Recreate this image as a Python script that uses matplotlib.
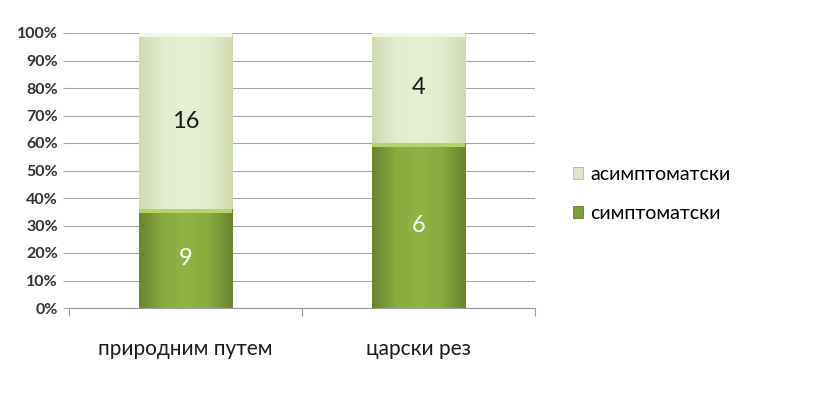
import matplotlib
matplotlib.use("Agg")
import matplotlib.pyplot as plt
import numpy as np
from matplotlib.colors import LinearSegmentedColormap
from matplotlib.patches import Rectangle

categories = ["природним путем", "царски рез"]
symptomatic = [9, 6]
asymptomatic = [16, 4]
series_names = ["симптоматски", "асимптоматски"]
yticks = [0, 10, 20, 30, 40, 50, 60, 70, 80, 90, 100]

plt.rcParams['font.family'] = ['Lato', 'DejaVu Sans']

fig = plt.figure(figsize=(8.22, 4.0), dpi=100)
ax = fig.add_axes([69/822, 1-308/400, (535-69)/822, (308-33)/400])

x = np.arange(len(categories))
tot = np.array(symptomatic) + np.array(asymptomatic)
p_sym = np.array(symptomatic) / tot * 100
p_asy = np.array(asymptomatic) / tot * 100

dark_cmap = LinearSegmentedColormap.from_list("d", ["#6a8530", "#88aa3e", "#90b345", "#88aa3e", "#6a8530"])
light_cmap = LinearSegmentedColormap.from_list("l", ["#cfdab3", "#e3ecce", "#e6efd2", "#e3ecce", "#cfdab3"])

w = 0.4
b1 = ax.bar(x, p_sym, w, color="#8aac40", zorder=2)
b2 = ax.bar(x, p_asy, w, bottom=p_sym, color="#e4edcd", zorder=2)

grad = np.linspace(0, 1, 64).reshape(1, -1)
for bars, cmap, top_col in ((b1, dark_cmap, "#b5d36a"), (b2, light_cmap, "#f2f7e6")):
    for r in bars:
        x0, y0 = r.get_x(), r.get_y()
        ww, hh = r.get_width(), r.get_height()
        im = ax.imshow(grad, cmap=cmap, aspect="auto", extent=[x0, x0 + ww, y0, y0 + hh], zorder=3)
        im.set_clip_path(r)
        ax.add_patch(Rectangle((x0, y0 + hh - 1.6), ww, 1.6, color=top_col, zorder=4, lw=0))

for i in range(len(categories)):
    ax.text(x[i], p_sym[i] / 2, str(symptomatic[i]), ha="center", va="center",
            fontsize=17, color="white", zorder=5)
    ax.text(x[i], p_sym[i] + p_asy[i] / 2, str(asymptomatic[i]), ha="center", va="center",
            fontsize=17, color="#1a1a1a", zorder=5)

ax.set_xlim(-0.5, len(categories) - 0.5)
ax.set_ylim(0, 100)
ax.set_yticks(yticks)
ax.set_yticklabels([f"{v}%" for v in yticks], fontsize=11.5, fontweight="bold", color="#333333")
ax.yaxis.grid(True, color="#a6a6a6", lw=0.8, zorder=0)
ax.set_axisbelow(True)
ax.tick_params(axis="y", length=4, color="#a6a6a6", pad=4)

ax.set_xticks([-0.5, 0.5, 1.5])
ax.set_xticklabels([])
ax.set_xticks(x, minor=True)
ax.set_xticklabels(categories, minor=True, fontsize=15, color="#1a1a1a")
ax.tick_params(axis="x", which="major", length=6, color="#999999", direction="out")
ax.tick_params(axis="x", which="minor", length=0, pad=22)

for s in ("top", "right", "left"):
    ax.spines[s].set_visible(False)
ax.spines["bottom"].set_color("#999999")

handles = [Rectangle((0, 0), 1, 1, facecolor="#dfe6cc", edgecolor="#b0b89a", lw=0.6),
           Rectangle((0, 0), 1, 1, facecolor="#7e9e38", edgecolor="#5f7a28", lw=0.6)]
fig.legend(handles, [series_names[1], series_names[0]], loc="center left",
           bbox_to_anchor=(555/822, 1-194/400), frameon=False, fontsize=14,
           handlelength=0.55, handleheight=0.55, handletextpad=0.35, labelspacing=1.15)

fig.savefig("out.png", dpi=100)
